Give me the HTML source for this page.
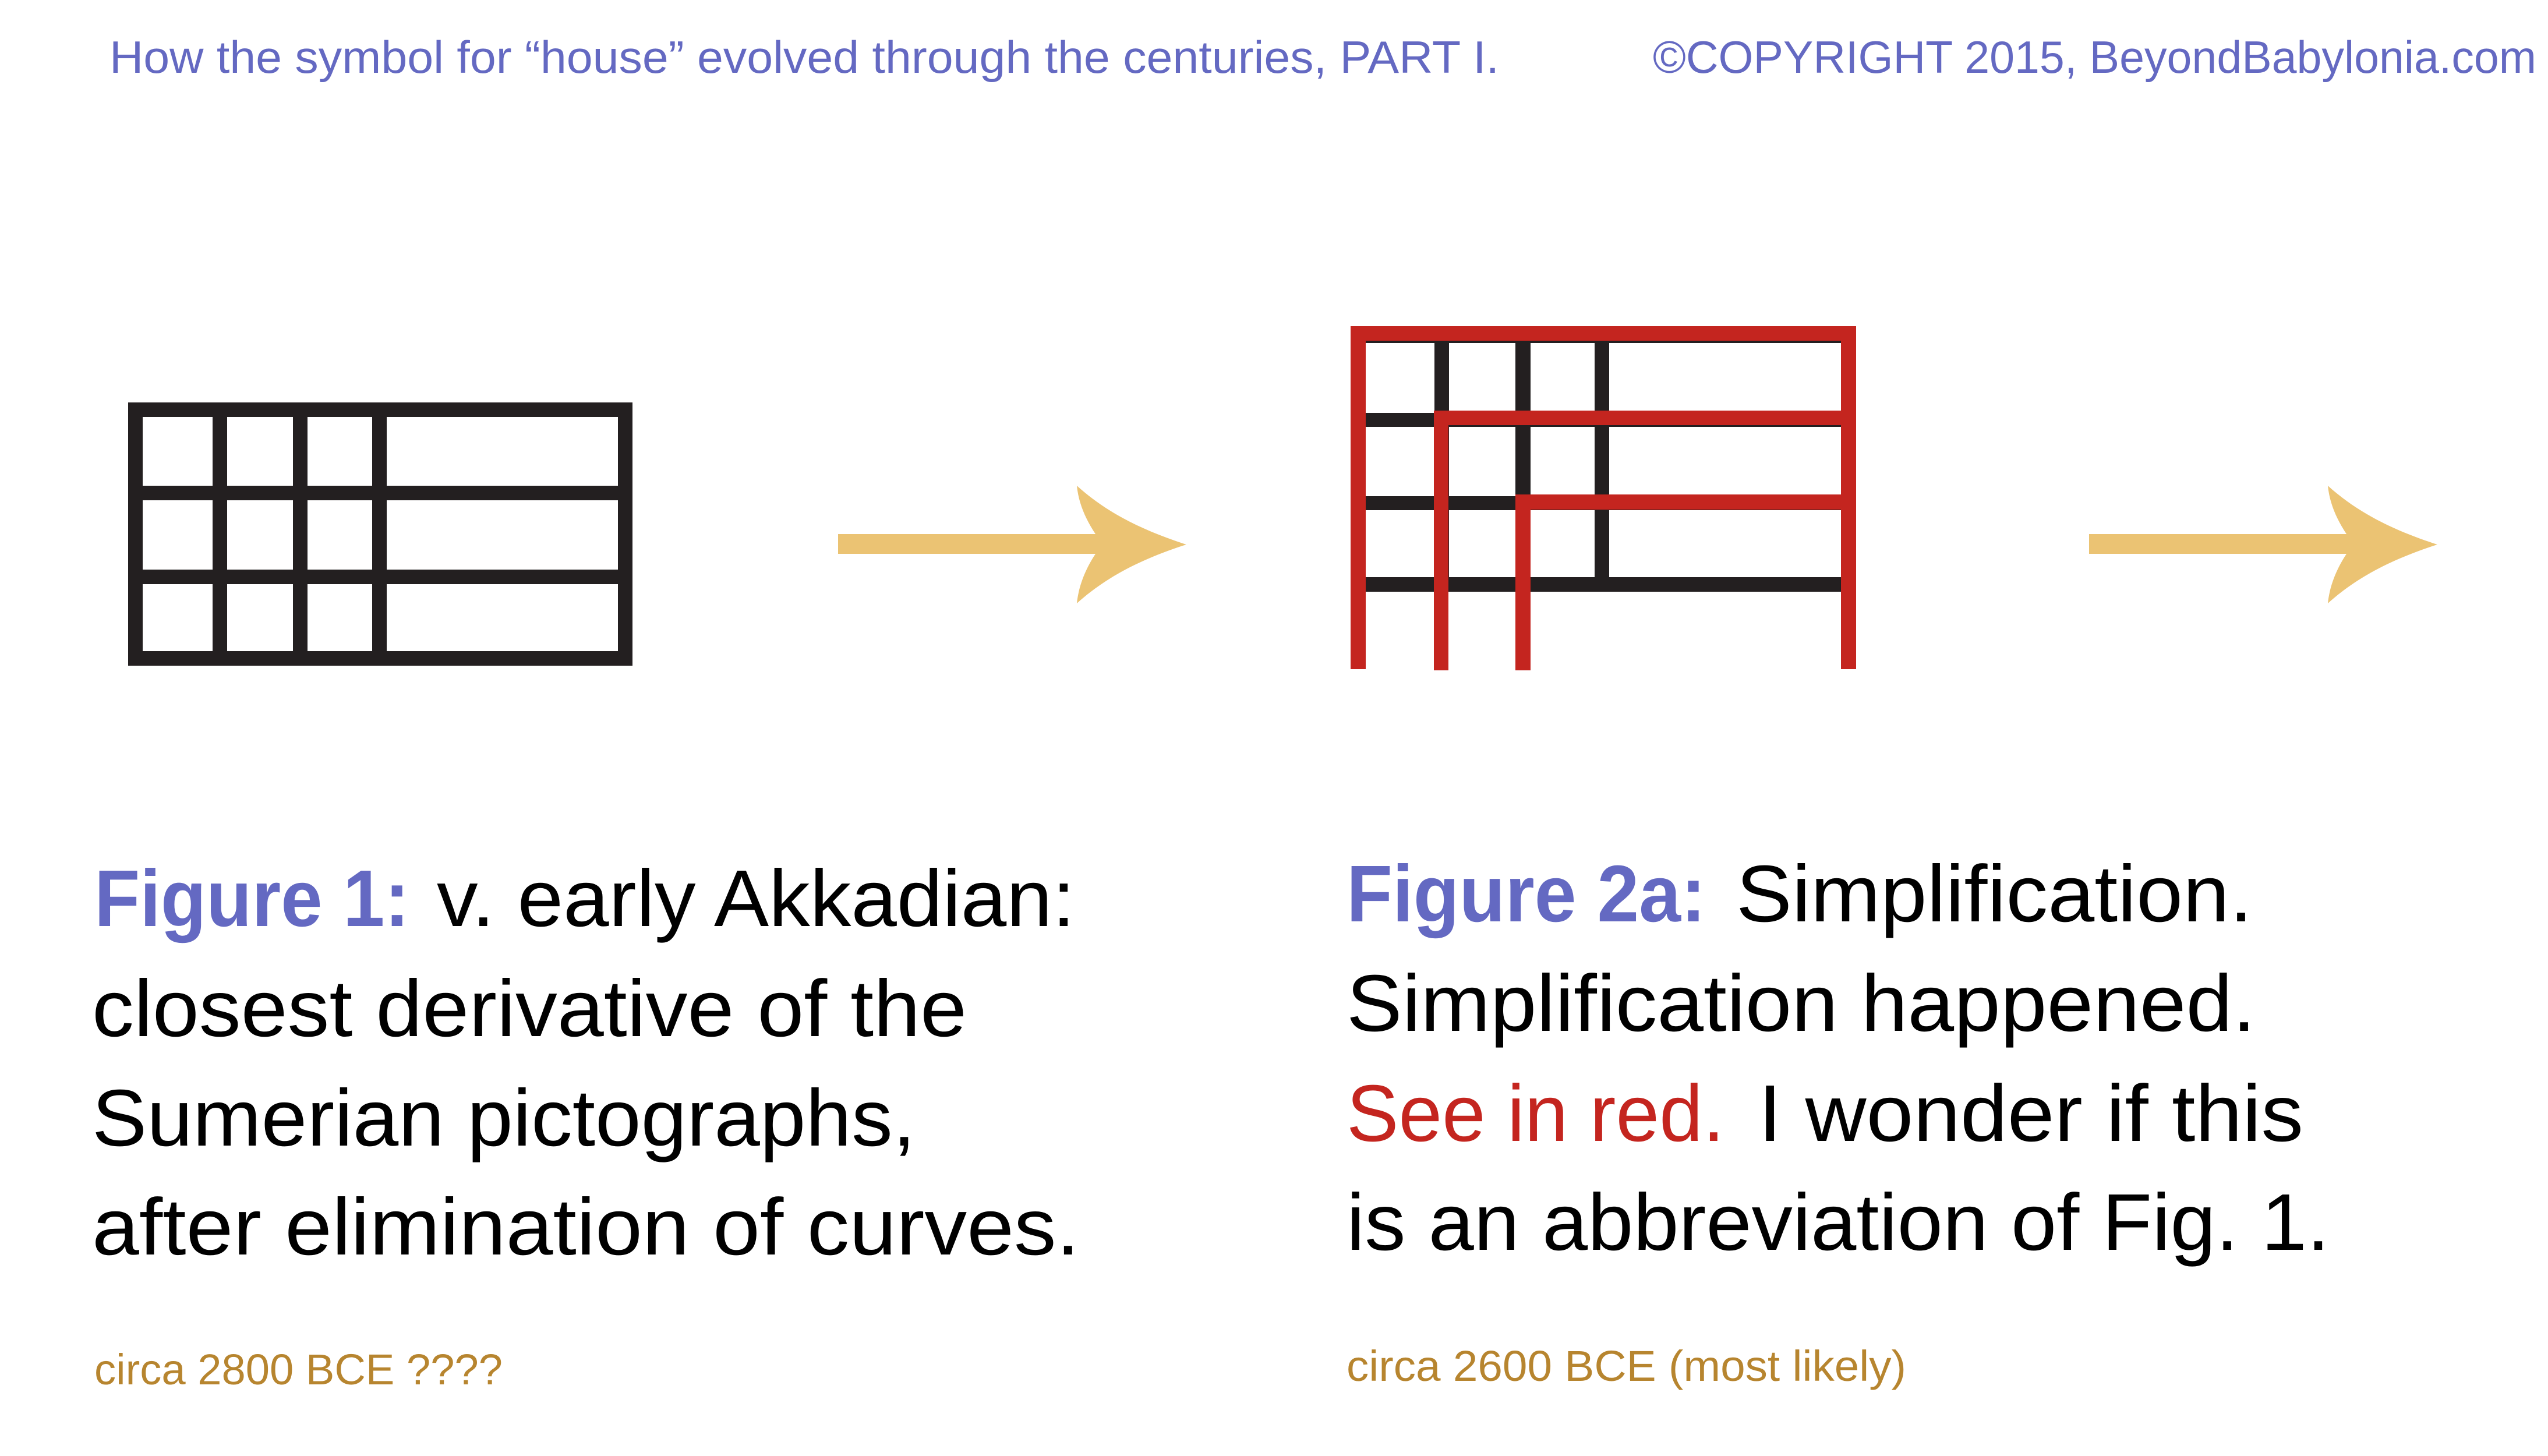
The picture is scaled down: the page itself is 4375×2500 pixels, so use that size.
<!DOCTYPE html>
<html><head><meta charset="utf-8"><style>
html,body{margin:0;padding:0;background:#fff;}
svg{display:block;}
text{font-family:"Liberation Sans",sans-serif;}
</style></head><body>
<svg width="4375" height="2500" viewBox="0 0 4375 2500" xmlns="http://www.w3.org/2000/svg">
<rect width="4375" height="2500" fill="#fff"/>
<!-- header -->
<text x="188" y="125" font-size="78" fill="#6469c2" textLength="2386" lengthAdjust="spacingAndGlyphs">How the symbol for “house” evolved through the centuries, PART I.</text>
<text x="2838" y="125" font-size="78" fill="#6469c2" textLength="1517" lengthAdjust="spacingAndGlyphs">©COPYRIGHT 2015, BeyondBabylonia.com</text>

<!-- Figure 1 grid -->
<g fill="#231f20">
<rect x="220" y="691" width="866" height="25"/>
<rect x="220" y="834" width="866" height="25"/>
<rect x="220" y="978" width="866" height="25"/>
<rect x="220" y="1118" width="866" height="25"/>
<rect x="220" y="691" width="25" height="452"/>
<rect x="365" y="691" width="25" height="452"/>
<rect x="503" y="691" width="25" height="452"/>
<rect x="639" y="691" width="25" height="452"/>
<rect x="1061" y="691" width="25" height="452"/>
</g>

<!-- Figure 2a -->
<g fill="#231f20">
<rect x="2319" y="583" width="868" height="6"/>
<rect x="2463" y="583" width="25" height="408"/>
<rect x="2602" y="583" width="26" height="408"/>
<rect x="2738" y="583" width="25" height="408"/>
<rect x="2319" y="709" width="160" height="24"/>
<rect x="2470" y="728" width="717" height="5"/>
<rect x="2319" y="852" width="300" height="24"/>
<rect x="2610" y="872" width="577" height="4"/>
<rect x="2319" y="991" width="868" height="25"/>
</g>
<g fill="#c4251f">
<rect x="2319" y="560" width="868" height="25"/>
<rect x="2319" y="560" width="26" height="589"/>
<rect x="3161" y="560" width="26" height="589"/>
<rect x="2462" y="705" width="725" height="25"/>
<rect x="2462" y="705" width="25" height="446"/>
<rect x="2602" y="849" width="585" height="26"/>
<rect x="2602" y="849" width="26" height="302"/>
</g>

<!-- arrows -->
<g fill="#ebc373">
<path d="M1849,834 C1900,880 1960,910 2037,935 C1960,960 1900,990 1849,1036 C1852,1005 1865,975 1881,951 L1439,951 L1439,917 L1881,917 C1865,893 1852,865 1849,834 Z"/>
<path transform="translate(2148,0)" d="M1849,834 C1900,880 1960,910 2037,935 C1960,960 1900,990 1849,1036 C1852,1005 1865,975 1881,951 L1439,951 L1439,917 L1881,917 C1865,893 1852,865 1849,834 Z"/>
</g>

<!-- Figure 1 text -->
<g font-size="138" fill="#000">
<text x="162" y="1590" font-weight="bold" fill="#6469c2" textLength="541" lengthAdjust="spacingAndGlyphs">Figure 1:</text>
<text x="750" y="1590" textLength="1096" lengthAdjust="spacingAndGlyphs">v. early Akkadian:</text>
<text x="158" y="1779" textLength="1502" lengthAdjust="spacingAndGlyphs">closest derivative of the</text>
<text x="158" y="1967" textLength="1414" lengthAdjust="spacingAndGlyphs">Sumerian pictographs,</text>
<text x="158" y="2154" textLength="1696" lengthAdjust="spacingAndGlyphs">after elimination of curves.</text>
</g>
<text x="162" y="2377" font-size="74" fill="#b7852f" textLength="701" lengthAdjust="spacingAndGlyphs">circa 2800 BCE ????</text>

<!-- Figure 2a text -->
<g font-size="138" fill="#000">
<text x="2312" y="1582" font-weight="bold" fill="#6469c2" textLength="617" lengthAdjust="spacingAndGlyphs">Figure 2a:</text>
<text x="2981" y="1582" textLength="887" lengthAdjust="spacingAndGlyphs">Simplification.</text>
<text x="2312" y="1770" textLength="1561" lengthAdjust="spacingAndGlyphs">Simplification happened.</text>
<text x="2312" y="1959" fill="#c4251f" textLength="649" lengthAdjust="spacingAndGlyphs">See in red.</text>
<text x="3019" y="1959" textLength="936" lengthAdjust="spacingAndGlyphs">I wonder if this</text>
<text x="2312" y="2146" textLength="1688" lengthAdjust="spacingAndGlyphs">is an abbreviation of Fig. 1.</text>
</g>
<text x="2312" y="2371" font-size="74" fill="#b7852f" textLength="961" lengthAdjust="spacingAndGlyphs">circa 2600 BCE (most likely)</text>
</svg>
</body></html>
